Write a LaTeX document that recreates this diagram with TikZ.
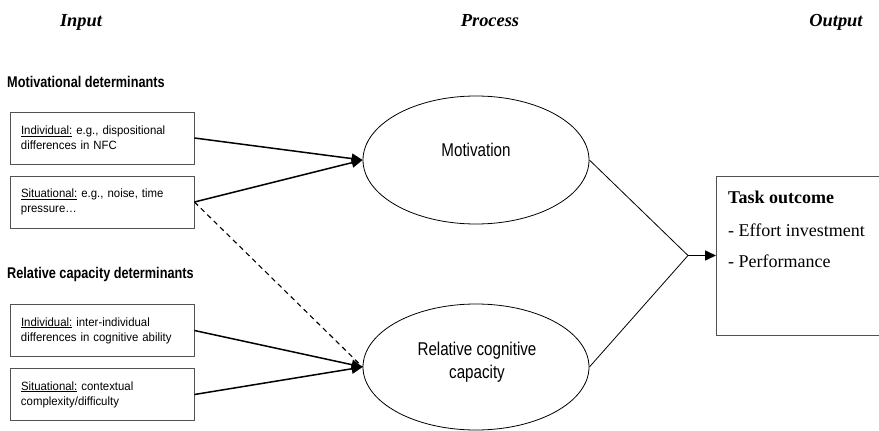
\documentclass[tikz,border=0pt]{standalone}
\usepackage{fontspec}
\setmainfont{Liberation Serif}
\newfontfamily\arialfont{Liberation Sans}[FakeStretch=0.95]
\newfontfamily\narrowfont{Liberation Sans}[FakeStretch=0.82]
\usetikzlibrary{shapes.geometric,arrows.meta}

\tikzset{
  coltitle/.style={font=\fontsize{18.4}{22}\selectfont\bfseries\itshape, inner sep=0pt, anchor=base},
  grouphead/.style={font=\narrowfont\fontsize{15.5}{18}\selectfont\bfseries, inner sep=0pt, anchor=base west},
  detbox/.style={draw=black!68, line width=0.9pt, rectangle, minimum width=184pt, minimum height=52pt,
    text width=162pt, inner xsep=11pt, align=left, font=\arialfont\fontsize{12}{15}\selectfont},
  procell/.style={draw=black, line width=0.8pt, ellipse, minimum width=226pt, inner sep=0pt},
  proclabel/.style={font=\narrowfont\fontsize{18.5}{23}\selectfont, align=center, inner sep=0pt},
  outtext/.style={font=\fontsize{18}{22}\selectfont, inner sep=0pt, anchor=base west},
  feed/.style={line width=1.5pt, -{Triangle[length=11pt,width=10pt]}},
  merge/.style={line width=0.8pt},
}

\begin{document}
\begin{tikzpicture}[x=1pt,y=-1pt]
  \useasboundingbox (0,0) rectangle (879,431);
  \clip (0,0) rectangle (879,431);

  % column titles
  \node[coltitle] (tin)  at (81,26)  {Input};
  \node[coltitle] (tpro) at (490,26) {Process};
  \node[coltitle] (tout) at (836,26) {Output};

  % determinant groups
  \node[grouphead] (hmot) at (7,87)  {Motivational determinants};
  \node[grouphead] (hcap) at (7,278) {Relative capacity determinants};

  \node[detbox] (mi) at (102,138)   {\underline{Individual:} e.g., dispositional\\differences in NFC};
  \node[detbox] (ms) at (102,202)   {\underline{Situational:} e.g., noise, time\\pressure\dots};
  \node[detbox] (ci) at (102,330.5) {\underline{Individual:} inter-individual\\differences in cognitive ability};
  \node[detbox] (cs) at (102,394.5) {\underline{Situational:} contextual\\complexity/difficulty};

  % process ellipses
  \node[procell, minimum height=128pt] (mot) at (476,160) {};
  \node[procell, minimum height=126pt] (rel) at (476,367) {};
  \node[proclabel] (motl) at (476,150) {Motivation};
  \node[proclabel] (rell) at (477,362) {Relative cognitive\\capacity};

  % outcome box (runs off the right edge)
  \node[draw=black!68, line width=0.9pt, rectangle, minimum width=190pt, minimum height=159pt,
        inner sep=0pt, anchor=west] (task) at (716,255.5) {};
  \node[outtext, font=\fontsize{18}{22}\selectfont\bfseries] (tk1) at (728,203) {Task outcome};
  \node[outtext] (tk2) at (728,236) {- Effort investment};
  \node[outtext] (tk3) at (728,267) {- Performance};

  % connectors
  \draw[feed] (mi.east) -- (mot.west);
  \draw[feed] (ms.east) -- (mot.west);
  \draw[feed] (ci.east) -- (rel.west);
  \draw[feed] (cs.east) -- (rel.west);
  \draw[line width=1.1pt, dash pattern=on 5pt off 4pt] (ms.east) -- (rel.west);

  \coordinate (join) at (688,255.5);
  \draw[merge] (mot.east) -- (join);
  \draw[merge] (rel.east) -- (join);
  \draw[feed] (join) -- (task.west);
\end{tikzpicture}
\end{document}
